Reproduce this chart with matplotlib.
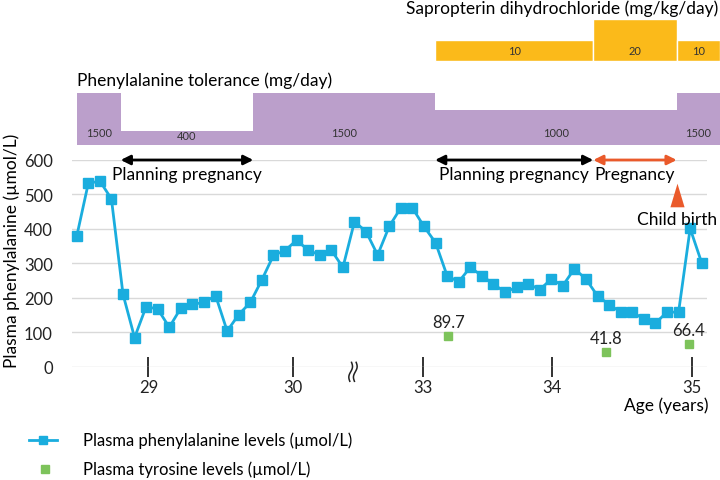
import matplotlib
matplotlib.use("Agg")
import matplotlib.pyplot as plt
import numpy as np

plt.rcParams['font.family'] = ['Lato', 'DejaVu Sans']

# ---- data ----
phe_levels = [378, 532, 539, 487, 210, 84, 174, 167, 114, 170, 181, 186, 206, 103,
              151, 186, 252, 323, 337, 367, 338, 324, 338, 288, 421, 392, 324, 407,
              461, 461, 407, 360, 264, 246, 288, 264, 240, 216, 230, 241, 223, 254,
              235, 284, 254, 205, 180, 158, 158, 138, 126, 158, 158, 401, 301]
tyr_pos = [32.1, 45.76, 52.9]
tyr_levels = [89.7, 41.8, 66.4]
tyr_labels = ["89.7", "41.8", "66.4"]

age_tick_pos = [6.19, 18.71, 29.95, 41.04, 53.19]
age_tick_labels = ["29", "30", "33", "34", "35"]
break_pos = 23.87

tol_edges = [0, 3.8, 15.26, 30.96, 51.84, 55.6]
tol_values = [1500, 400, 1500, 1000, 1500]
sap_edges = [30.96, 44.63, 51.84, 55.6]
sap_values = [10, 20, 10]

planning_periods = [(3.8, 15.26), (30.96, 44.63)]
pregnancy_period = (44.63, 51.84)
birth_pos = 51.84

yticks = [0, 100, 200, 300, 400, 500, 600]

blue = '#1AADDE'
green = '#7DC35B'
purple = '#BB9FCB'
yellow = '#FBBA1A'
red = '#EA5A2B'

W, H = 720, 481
fig = plt.figure(figsize=(7.2, 4.81), dpi=100)

def axrect(x0, y_top, x1, y_bot):
    return [x0 / W, 1 - y_bot / H, (x1 - x0) / W, (y_bot - y_top) / H]

xl = (-0.432, 54.43)

# main axes
ax = fig.add_axes(axrect(71.7, 161, 706.7, 367.5))
x = np.arange(len(phe_levels))
ax.plot(x, phe_levels, color=blue, lw=2, marker='s', ms=7.5, zorder=3, clip_on=False)
ax.plot(tyr_pos, tyr_levels, ls='none', marker='s', ms=6, color=green, zorder=3, clip_on=False)
for px, v, lab in zip(tyr_pos, tyr_levels, tyr_labels):
    ax.annotate(lab, (px, v), xytext=(0, 10), textcoords='offset points',
                ha='center', va='center', fontsize=12, color='#222222')
ax.set_xlim(*xl)
ax.set_ylim(0, 600)
ax.set_yticks(yticks)
ax.yaxis.grid(True, color='#D9D9D9', lw=1)
ax.set_axisbelow(True)
for s in ax.spines.values():
    s.set_visible(False)
ax.tick_params(axis='y', length=0, labelsize=12, pad=13.5, labelcolor='#222222')
ax.set_xticks(age_tick_pos)
ax.set_xticklabels(age_tick_labels)
ax.tick_params(axis='x', direction='inout', length=14, width=1.3, color='#222222',
               labelsize=12, pad=2, labelcolor='#222222')

# axis break symbol
t = np.linspace(0, 1, 30)
for off in (-0.2, 0.2):
    xs = break_pos + off + 0.12 * np.sin(2 * np.pi * t) - 0.15 * (t - 0.5)
    ys = 12 - 55 * t
    ax.plot(xs, ys, color='#222222', lw=1.1, clip_on=False)

# period arrows
for a, b in planning_periods:
    ax.annotate('', xy=(a, 600), xytext=(b, 600),
                arrowprops=dict(arrowstyle='<|-|>', color='black', lw=2,
                                mutation_scale=14, shrinkA=0, shrinkB=0),
                annotation_clip=False)
    ax.text((a + b) / 2, 560, 'Planning pregnancy', ha='center', va='center', fontsize=12.5)
a, b = pregnancy_period
ax.annotate('', xy=(a, 600), xytext=(b, 600),
            arrowprops=dict(arrowstyle='<|-|>', color=red, lw=2,
                            mutation_scale=14, shrinkA=0, shrinkB=0),
            annotation_clip=False)
ax.text((a + b) / 2, 560, 'Pregnancy', ha='center', va='center', fontsize=12.5)
tri = [(-0.3, -0.5), (0.3, -0.5), (0, 0.5), (-0.3, -0.5)]
ax.plot([birth_pos], [497], marker=tri, ms=17, color=red, mew=0, clip_on=False)
ax.text(birth_pos, 430, 'Child birth', ha='center', va='center', fontsize=12.5)

# tolerance bars
axp = fig.add_axes(axrect(71.7, 145.5 - 51.5, 706.7, 145.5))
axp.set_xlim(*xl)
axp.set_ylim(0, 1500)
axp.axis('off')
for i, v in enumerate(tol_values):
    l, r = tol_edges[i], tol_edges[i + 1]
    axp.bar(l, v, width=r - l, align='edge', color=purple, lw=0, clip_on=False)
    axp.text((l + r) / 2, 360 if v > 400 else 250, str(v), ha='center', va='center',
             fontsize=8, color='#333333', clip_on=False)

# sapropterin bars
axs = fig.add_axes(axrect(71.7, 61.7 - 41.7, 706.7, 61.7))
axs.set_xlim(*xl)
axs.set_ylim(0, 20)
axs.axis('off')
for i, v in enumerate(sap_values):
    l, r = sap_edges[i], sap_edges[i + 1]
    axs.bar(l, v, width=r - l, align='edge', color=yellow, edgecolor='white', lw=1, clip_on=False)
    axs.text((l + r) / 2, 5, str(v), ha='center', va='center', fontsize=8,
             color='#333333', clip_on=False)

# overlay for titles, legend
ov = fig.add_axes([0, 0, 1, 1])
ov.set_xlim(0, W)
ov.set_ylim(H, 0)
ov.axis('off')
ov.text(77, 81, 'Phenylalanine tolerance (mg/day)', ha='left', va='center', fontsize=12.5)
ov.text(718, 9, 'Sapropterin dihydrochloride (mg/kg/day)', ha='right', va='center', fontsize=12.5)
ov.text(12, 251, 'Plasma phenylalanine (µmol/L)', rotation=90, ha='center', va='center', fontsize=12.5)
ov.text(708, 406, 'Age (years)', ha='right', va='center', fontsize=12.5)

ov.plot([29, 57], [441, 441], color=blue, lw=2)
ov.plot([43], [441], marker='s', ms=6, color=blue)
ov.text(83, 441, 'Plasma phenylalanine levels (µmol/L)', ha='left', va='center', fontsize=12)
ov.plot([45], [470], marker='s', ms=6, color=green)
ov.text(83, 470, 'Plasma tyrosine levels (µmol/L)', ha='left', va='center', fontsize=12)

fig.savefig('out.png', dpi=100)
